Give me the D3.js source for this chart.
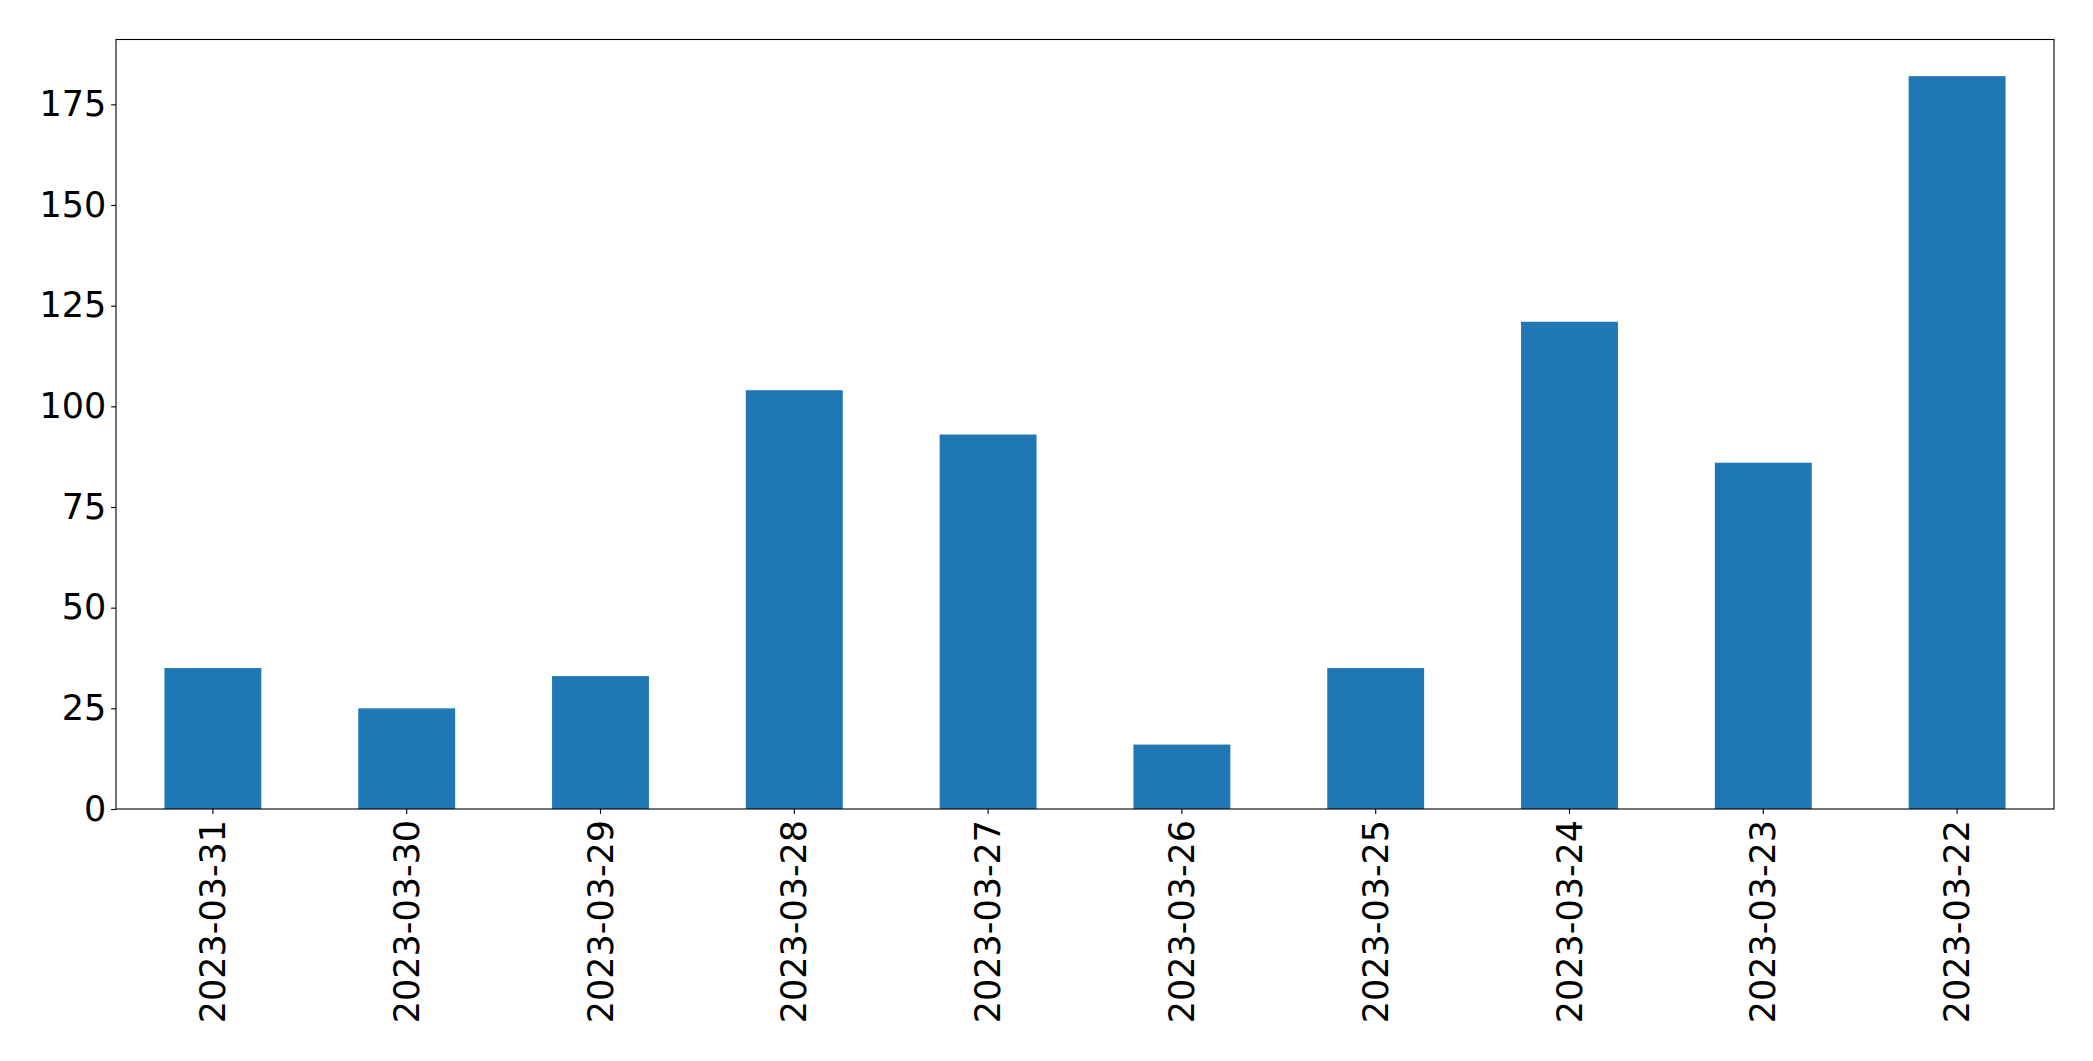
<!DOCTYPE html>
<html>
<head>
<meta charset="utf-8">
<script src="https://cdn.jsdelivr.net/npm/d3@7"></script>
<style>
  body { margin: 0; background: #fff; }
  text { font-family: "DejaVu Sans", sans-serif; }
</style>
</head>
<body>
<div id="chart"></div>
<script>
// Counts per day
var dates = ["2023-03-31", "2023-03-30", "2023-03-29", "2023-03-28", "2023-03-27",
             "2023-03-26", "2023-03-25", "2023-03-24", "2023-03-23", "2023-03-22"];
var counts = [35, 25, 33, 104, 93, 16, 35, 121, 86, 182];
var yTicks = [0, 25, 50, 75, 100, 125, 150, 175];

var svgWidth = 2093;
var svgHeight = 1061;

var margin = { top: 39.5, right: 39, bottom: 252, left: 116 };

var width = svgWidth - margin.left - margin.right;
var height = svgHeight - margin.top - margin.bottom;

var svg = d3.select("#chart")
    .append("svg")
    .attr("width", svgWidth)
    .attr("height", svgHeight);

var chartGroup = svg.append("g")
    .attr("transform", `translate(${margin.left}, ${margin.top})`);

var data = dates.map((d, i) => ({ date: d, count: counts[i] }));

// scales
var xBandScale = d3.scaleBand()
    .domain(dates)
    .range([0, width])
    .paddingInner(0.5)
    .paddingOuter(0.25);

var yLinearScale = d3.scaleLinear()
    .domain([0, d3.max(counts) * 1.05])
    .range([height, 0]);

// bars
chartGroup.selectAll("rect.bar")
    .data(data)
    .enter()
    .append("rect")
    .attr("class", "bar")
    .attr("x", d => xBandScale(d.date))
    .attr("y", d => yLinearScale(d.count))
    .attr("width", xBandScale.bandwidth())
    .attr("height", d => height - yLinearScale(d.count))
    .attr("fill", "#1f77b4");

// axes
var tickLen = 4.9;
var bottomAxis = d3.axisBottom(xBandScale)
    .tickSizeInner(tickLen)
    .tickSizeOuter(0)
    .tickPadding(4.9);
var leftAxis = d3.axisLeft(yLinearScale)
    .tickValues(yTicks)
    .tickSizeInner(tickLen)
    .tickSizeOuter(0)
    .tickPadding(4.9);

var xAxisG = chartGroup.append("g")
    .attr("transform", `translate(0, ${height})`)
    .call(bottomAxis);

xAxisG.selectAll("text")
    .attr("font-size", "35px")
    .attr("fill", "#000")
    .attr("text-anchor", "end")
    .attr("dy", null)
    .attr("dominant-baseline", "central")
    .attr("transform", "rotate(-90)")
    .attr("x", -(tickLen + 6))
    .attr("y", 0);

var yAxisG = chartGroup.append("g")
    .call(leftAxis);

yAxisG.selectAll("text")
    .attr("font-size", "35px")
    .attr("fill", "#000");

chartGroup.selectAll(".domain").remove();
chartGroup.selectAll(".tick line")
    .attr("stroke", "#000")
    .attr("stroke-width", 1.1);

// frame
chartGroup.append("rect")
    .attr("x", 0)
    .attr("y", 0)
    .attr("width", width)
    .attr("height", height)
    .attr("fill", "none")
    .attr("stroke", "#000")
    .attr("stroke-width", 1.1);
</script>
</body>
</html>
